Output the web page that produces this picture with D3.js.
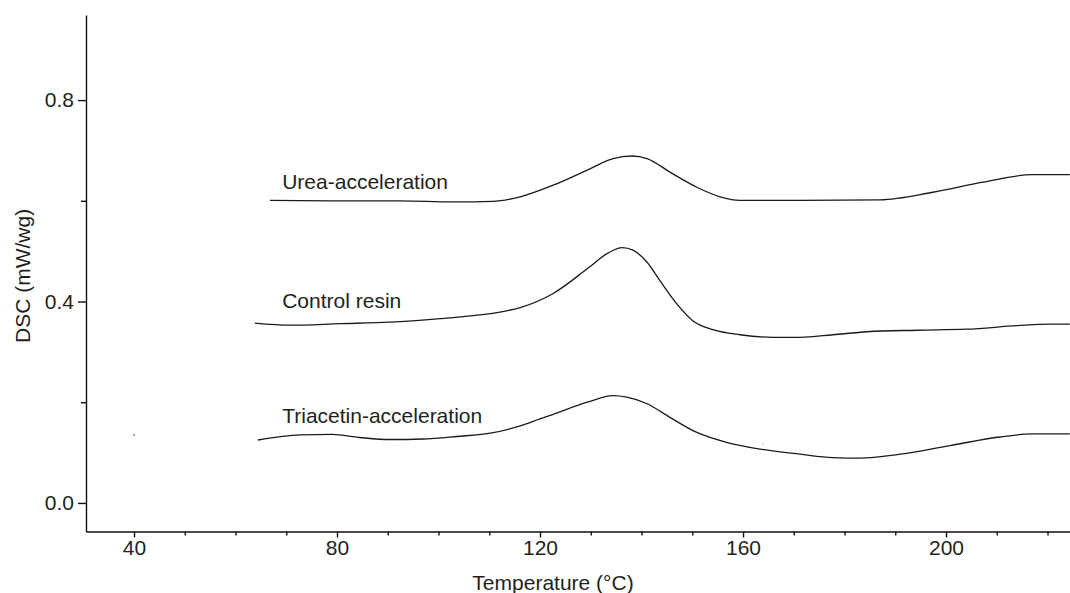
<!DOCTYPE html>
<html>
<head>
<meta charset="utf-8">
<script src="https://cdn.jsdelivr.net/npm/d3@7"></script>
<style>
    body { margin: 0; background: #fff; }
    text { font-family: "Liberation Sans", Arial, sans-serif; fill: #231f20; }
</style>
</head>
<body>
<div id="dscChart"></div>
<script>
// Values: temperature (°C) and DSC (mW/wg)
const ureaTemp = [66.8, 78.6, 92.4, 102.9, 110.7, 116.1, 122.6, 129.3, 134.4, 138.1, 141.1, 145.6, 150.9, 155.5, 159.4, 171.2, 187.0, 197.4, 207.3, 217.1, 224.4];
const ureaDsc  = [0.601, 0.600, 0.600, 0.598, 0.599, 0.608, 0.631, 0.661, 0.684, 0.689, 0.684, 0.657, 0.627, 0.608, 0.601, 0.601, 0.602, 0.617, 0.637, 0.652, 0.652];

const controlTemp = [63.8, 70.7, 80.6, 90.4, 100.3, 106.8, 112.1, 116.1, 122.6, 129.3, 133.2, 136.2, 138.3, 141.1, 143.6, 147.0, 150.1, 154.1, 159.4, 165.9, 171.2, 177.7, 184.4, 194.3, 204.1, 214.0, 220.5, 224.4];
const controlDsc  = [0.357, 0.353, 0.356, 0.359, 0.366, 0.372, 0.379, 0.388, 0.416, 0.465, 0.495, 0.507, 0.502, 0.478, 0.442, 0.395, 0.362, 0.344, 0.334, 0.329, 0.329, 0.334, 0.340, 0.343, 0.345, 0.352, 0.355, 0.355];

const triacetinTemp = [64.4, 72.7, 79.0, 84.5, 90.4, 96.9, 103.6, 110.5, 116.1, 120.0, 122.6, 129.3, 134.4, 137.1, 141.1, 145.6, 150.9, 156.9, 163.3, 171.2, 177.7, 183.1, 191.0, 200.8, 210.6, 217.1, 224.4];
const triacetinDsc  = [0.125, 0.135, 0.136, 0.130, 0.126, 0.127, 0.132, 0.139, 0.153, 0.167, 0.176, 0.200, 0.213, 0.210, 0.197, 0.170, 0.140, 0.120, 0.107, 0.097, 0.090, 0.089, 0.097, 0.114, 0.131, 0.137, 0.137];

const seriesNames = ["Urea-acceleration", "Control resin", "Triacetin-acceleration"];
// label anchor: temperature where the label starts, DSC of its baseline
const labelTemp = [69.2, 69.2, 69.2];
const labelDsc  = [0.624, 0.387, 0.158];

// stray specks in the scan
const strayTemp = [40.0, 164.0];
const strayDsc  = [0.135, 0.117];

const xMajorTicks = [40, 80, 120, 160, 200];
const xMinorTicks = [50, 60, 70, 90, 100, 110, 130, 140, 150, 170, 180, 190, 210, 220];
const yMajorTicks = [0.0, 0.4, 0.8];
const yMinorTicks = [0.2, 0.6];

var width = 1070, height = 593;
var margin = {top: 15, right: 0, bottom: 62, left: 86};

var svg = d3.select('#dscChart')
    .append("svg")
        .attr('width', width)
        .attr('height', height);

const x = d3.scaleLinear()
    .domain([30.54, 224.43])
    .range([margin.left, width - margin.right]);
const y = d3.scaleLinear()
    .domain([-0.0567, 0.969])
    .range([height - margin.bottom + 0.5, margin.top]);

// x axis
svg.append("g")
    .attr("transform", `translate(0, ${y.range()[0]})`)
    .call(d3.axisBottom(x).tickValues(xMinorTicks).tickSize(4).tickSizeOuter(0).tickFormat(""))
    .call(g => g.select(".domain").remove());
svg.append("g")
    .attr("class", "axis")
    .attr("transform", `translate(0, ${y.range()[0]})`)
    .call(d3.axisBottom(x).tickValues(xMajorTicks).tickSize(6).tickSizeOuter(0).tickPadding(3));

// y axis
svg.append("g")
    .attr("transform", `translate(${margin.left}, 0)`)
    .call(d3.axisLeft(y).tickValues(yMinorTicks).tickSize(5).tickSizeOuter(0).tickFormat(""))
    .call(g => g.select(".domain").remove());
svg.append("g")
    .attr("class", "axis")
    .attr("transform", `translate(${margin.left}, 0)`)
    .call(d3.axisLeft(y).tickValues(yMajorTicks).tickSize(8).tickSizeOuter(0).tickPadding(4).tickFormat(d3.format(".1f")));

svg.selectAll(".tick line, .domain")
    .attr("stroke", "#111")
    .attr("stroke-width", 1.4);
svg.selectAll(".axis text")
    .style("font-size", "21px")
    .style("font-family", '"Liberation Sans", Arial, sans-serif')
    .attr("fill", "#231f20");

// axis titles
svg.append("text")
    .attr("x", (x(30.54) + x(224.43)) / 2 - 25)
    .attr("y", 590)
    .attr("text-anchor", "middle")
    .style("font-size", "21px")
    .text("Temperature (°C)");
svg.append("text")
    .attr("transform", "translate(30, 343) rotate(-90)")
    .attr("text-anchor", "start")
    .style("font-size", "21px")
    .text("DSC (mW/wg)");

// curves
const series = [
    d3.zip(ureaTemp, ureaDsc),
    d3.zip(controlTemp, controlDsc),
    d3.zip(triacetinTemp, triacetinDsc)
];

const line = d3.line()
    .curve(d3.curveMonotoneX)
    .x(d => x(d[0]))
    .y(d => y(d[1]));

svg.selectAll(".curve")
    .data(series)
    .enter().append("path")
        .attr("class", "curve")
        .attr("fill", "none")
        .attr("stroke", "#1a1a1a")
        .attr("stroke-width", 1.3)
        .attr("d", d => line(d));

svg.selectAll(".curveLabel")
    .data(seriesNames)
    .enter().append("text")
        .attr("class", "curveLabel")
        .attr("x", (d, i) => x(labelTemp[i]))
        .attr("y", (d, i) => y(labelDsc[i]))
        .style("font-size", "21px")
        .text(d => d);

svg.selectAll(".speck")
    .data(d3.zip(strayTemp, strayDsc))
    .enter().append("circle")
        .attr("cx", d => x(d[0]))
        .attr("cy", d => y(d[1]))
        .attr("r", 0.8)
        .attr("fill", (d, i) => i === 0 ? "#333" : "#bbb");
</script>
</body>
</html>
